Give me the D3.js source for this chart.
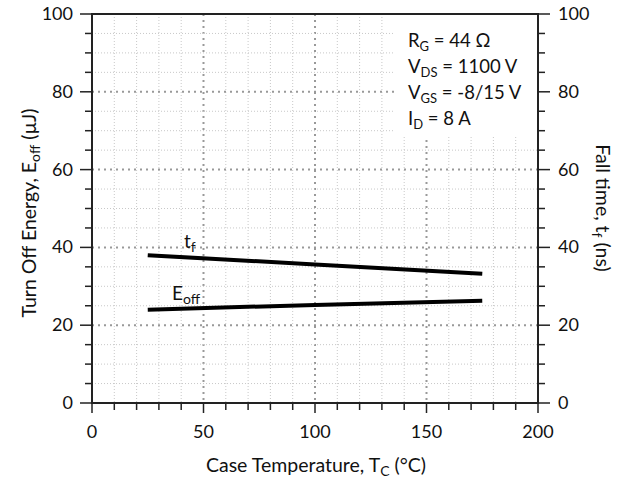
<!DOCTYPE html>
<html>
<head>
<meta charset="utf-8">
<script src="https://cdn.jsdelivr.net/npm/d3@7"></script>
<style>
  body { margin: 0; background: #fff; }
  text { font-family: Lato, "Open Sans", sans-serif; fill: #111; }
</style>
</head>
<body>
<svg id="chart" width="628" height="483"></svg>
<script>
// values
const tempC = [25, 100, 175];
const fallTime = [38.0, 35.6, 33.2];   // ns, right axis
const eOff = [24.0, 25.2, 26.3];       // uJ, left axis
const xTicks = [0, 50, 100, 150, 200];
const yTicks = [0, 20, 40, 60, 80, 100];
const conditions = [
  ['R', 'G', ' = 44 Ω'],
  ['V', 'DS', ' = 1100 V'],
  ['V', 'GS', ' = -8/15 V'],
  ['I', 'D', ' = 8 A']
];

const svg = d3.select('#chart');
const m = { left: 92, right: 538, top: 14, bottom: 403 };
const fs = 18;

const x = d3.scaleLinear().domain([0, 200]).range([m.left, m.right]);
const y = d3.scaleLinear().domain([0, 100]).range([m.bottom, m.top]);

// label with a subscripted part: [[text, isSub], ...]
function richText(sel, parts, size) {
  const s = size || fs, sub = Math.round(s * 0.72);
  parts.forEach(([str, isSub], i) => {
    const prevSub = i > 0 && parts[i - 1][1];
    sel.append('tspan')
      .attr('font-size', isSub ? sub : s)
      .attr('dy', isSub ? 4 : (prevSub ? -4 : 0))
      .text(str);
  });
  return sel;
}

// grid
const grid = svg.append('g');
d3.range(10, 200, 10).forEach(v => {
  const major = v % 50 === 0;
  grid.append('line')
    .attr('x1', x(v)).attr('x2', x(v)).attr('y1', m.top).attr('y2', m.bottom)
    .attr('stroke', major ? '#999' : '#c8c8c8')
    .attr('stroke-width', major ? 2 : 1)
    .attr('stroke-dasharray', major ? '2,4' : '1,2');
});
d3.range(5, 100, 5).forEach(v => {
  const major = v % 20 === 0;
  grid.append('line')
    .attr('x1', m.left).attr('x2', m.right).attr('y1', y(v)).attr('y2', y(v))
    .attr('stroke', major ? '#999' : '#c8c8c8')
    .attr('stroke-width', major ? 2 : 1)
    .attr('stroke-dasharray', major ? '2,4' : '1,2');
});

// conditions box covers the grid
svg.append('rect')
  .attr('x', 395).attr('y', m.top + 1)
  .attr('width', m.right - 396).attr('height', 121)
  .attr('fill', '#fff');

conditions.forEach((c, i) => {
  const t = svg.append('text')
    .attr('x', 408).attr('y', 47 + i * 26);
  richText(t, [[c[0], false], [c[1], true], [c[2], false]], 18.5);
});

// frame
svg.append('rect')
  .attr('x', m.left).attr('y', m.top)
  .attr('width', m.right - m.left).attr('height', m.bottom - m.top)
  .attr('fill', 'none').attr('stroke', '#222').attr('stroke-width', 2);

// ticks
const axes = svg.append('g').attr('stroke', '#222').attr('stroke-width', 1.5);
d3.range(0, 201, 10).forEach(v => {
  axes.append('line')
    .attr('x1', x(v)).attr('x2', x(v))
    .attr('y1', m.bottom).attr('y2', m.bottom + (v % 50 === 0 ? 10 : 7));
});
d3.range(0, 101, 5).forEach(v => {
  const len = v % 20 === 0 ? 12 : 7;
  axes.append('line')
    .attr('x1', m.left - len).attr('x2', m.left).attr('y1', y(v)).attr('y2', y(v));
  axes.append('line')
    .attr('x1', m.right).attr('x2', m.right + len).attr('y1', y(v)).attr('y2', y(v));
});

svg.selectAll('.xl').data(xTicks).join('text')
  .attr('x', d => x(d)).attr('y', 438)
  .attr('text-anchor', 'middle').attr('font-size', fs)
  .text(d => d);
svg.selectAll('.yl').data(yTicks).join('text')
  .attr('x', 73).attr('y', d => y(d) + 6)
  .attr('text-anchor', 'end').attr('font-size', fs)
  .text(d => d);
svg.selectAll('.yr').data(yTicks).join('text')
  .attr('x', 558).attr('y', d => y(d) + 6)
  .attr('text-anchor', 'start').attr('font-size', fs)
  .text(d => d);

// axis titles
richText(svg.append('text')
  .attr('x', 316).attr('y', 472).attr('text-anchor', 'middle'),
  [['Case Temperature, T', false], ['C', true], [' (°C)', false]], 19.5);

richText(svg.append('text')
  .attr('transform', `translate(36,213) rotate(-90)`)
  .attr('text-anchor', 'middle'),
  [['Turn Off Energy, E', false], ['off', true], [' (µJ)', false]], 19.5);

richText(svg.append('text')
  .attr('transform', `translate(596,208) rotate(90)`)
  .attr('text-anchor', 'middle'),
  [['Fall time, t', false], ['f', true], [' (ns)', false]], 19.5);

// curves
const line = d3.line().x(d => x(d[0])).y(d => y(d[1]));
[fallTime, eOff].forEach(series => {
  svg.append('path')
    .datum(tempC.map((t, i) => [t, series[i]]))
    .attr('d', line).attr('fill', 'none')
    .attr('stroke', '#000').attr('stroke-width', 4);
});

// curve labels
richText(svg.append('text').attr('x', 184).attr('y', 248), [['t', false], ['f', true]], 19);
richText(svg.append('text').attr('x', 172).attr('y', 300), [['E', false], ['off', true]], 19);
</script>
</body>
</html>
